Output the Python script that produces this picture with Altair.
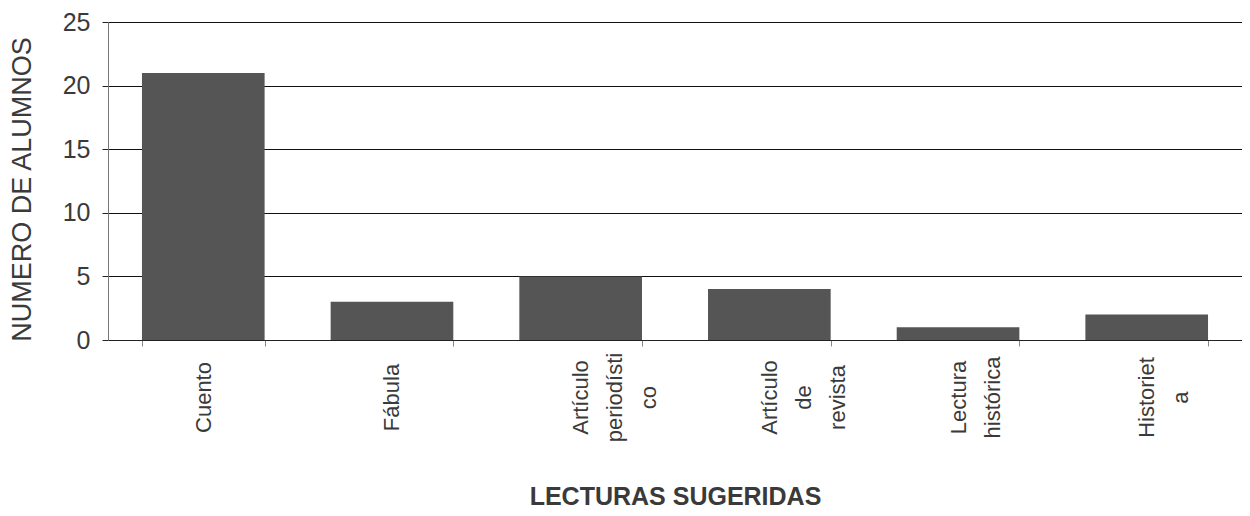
import altair as alt
import pandas as pd

categorias = ["Cuento", "Fábula", "Artículo\nperiodísti\nco", "Artículo\nde\nrevista", "Lectura\nhistórica", "Historiet\na"]
alumnos = [21, 3, 5, 4, 1, 2]

df = pd.DataFrame({"cat": categorias, "n": alumnos})

FONT = "Liberation Sans"
TXT = "#3a3a3a"

bars = alt.Chart(df).mark_bar(color="#555555").encode(
    x=alt.X("cat:N", sort=None,
            scale=alt.Scale(paddingInner=0.35, paddingOuter=0.18),
            axis=alt.Axis(title="LECTURAS SUGERIDAS", labelAngle=-90, labelAlign="center",
                          labelBaseline="middle", labelPadding=51, labelFontSize=22,
                          labelLineHeight=34, labelExpr="split(datum.label, '\\n')",
                          labelColor=TXT, labelFont=FONT, tickBand="extent", tickSize=6,
                          tickColor="#888", domainColor="#222", domainWidth=1.2,
                          titleFont=FONT, titleFontSize=25, titleFontWeight="bold",
                          titleColor=TXT, titleY=144, titleBaseline="top", grid=False)),
    y=alt.Y("n:Q", scale=alt.Scale(domain=[0, 25]),
            axis=alt.Axis(title="NUMERO DE ALUMNOS", values=[0, 5, 10, 15, 20, 25],
                          labelFontSize=25, labelColor=TXT, labelFont=FONT, labelPadding=12,
                          tickSize=6, tickColor="#222", domainColor="#777",
                          gridColor="#111", gridWidth=1.2, gridOpacity=1,
                          titleFont=FONT, titleFontSize=27, titleFontWeight=500,
                          titleColor=TXT, titleX=-86, titleY=167, titleBaseline="middle")),
).properties(width=1134, height=318, autosize=alt.AutoSizeParams(type="none"),
             padding={"left": 100, "top": 14, "right": 0, "bottom": 168}
).configure_view(stroke=None).configure(background="white")

chart = bars
chart.save("out.html", embed_options={"renderer": "svg", "actions": False})
